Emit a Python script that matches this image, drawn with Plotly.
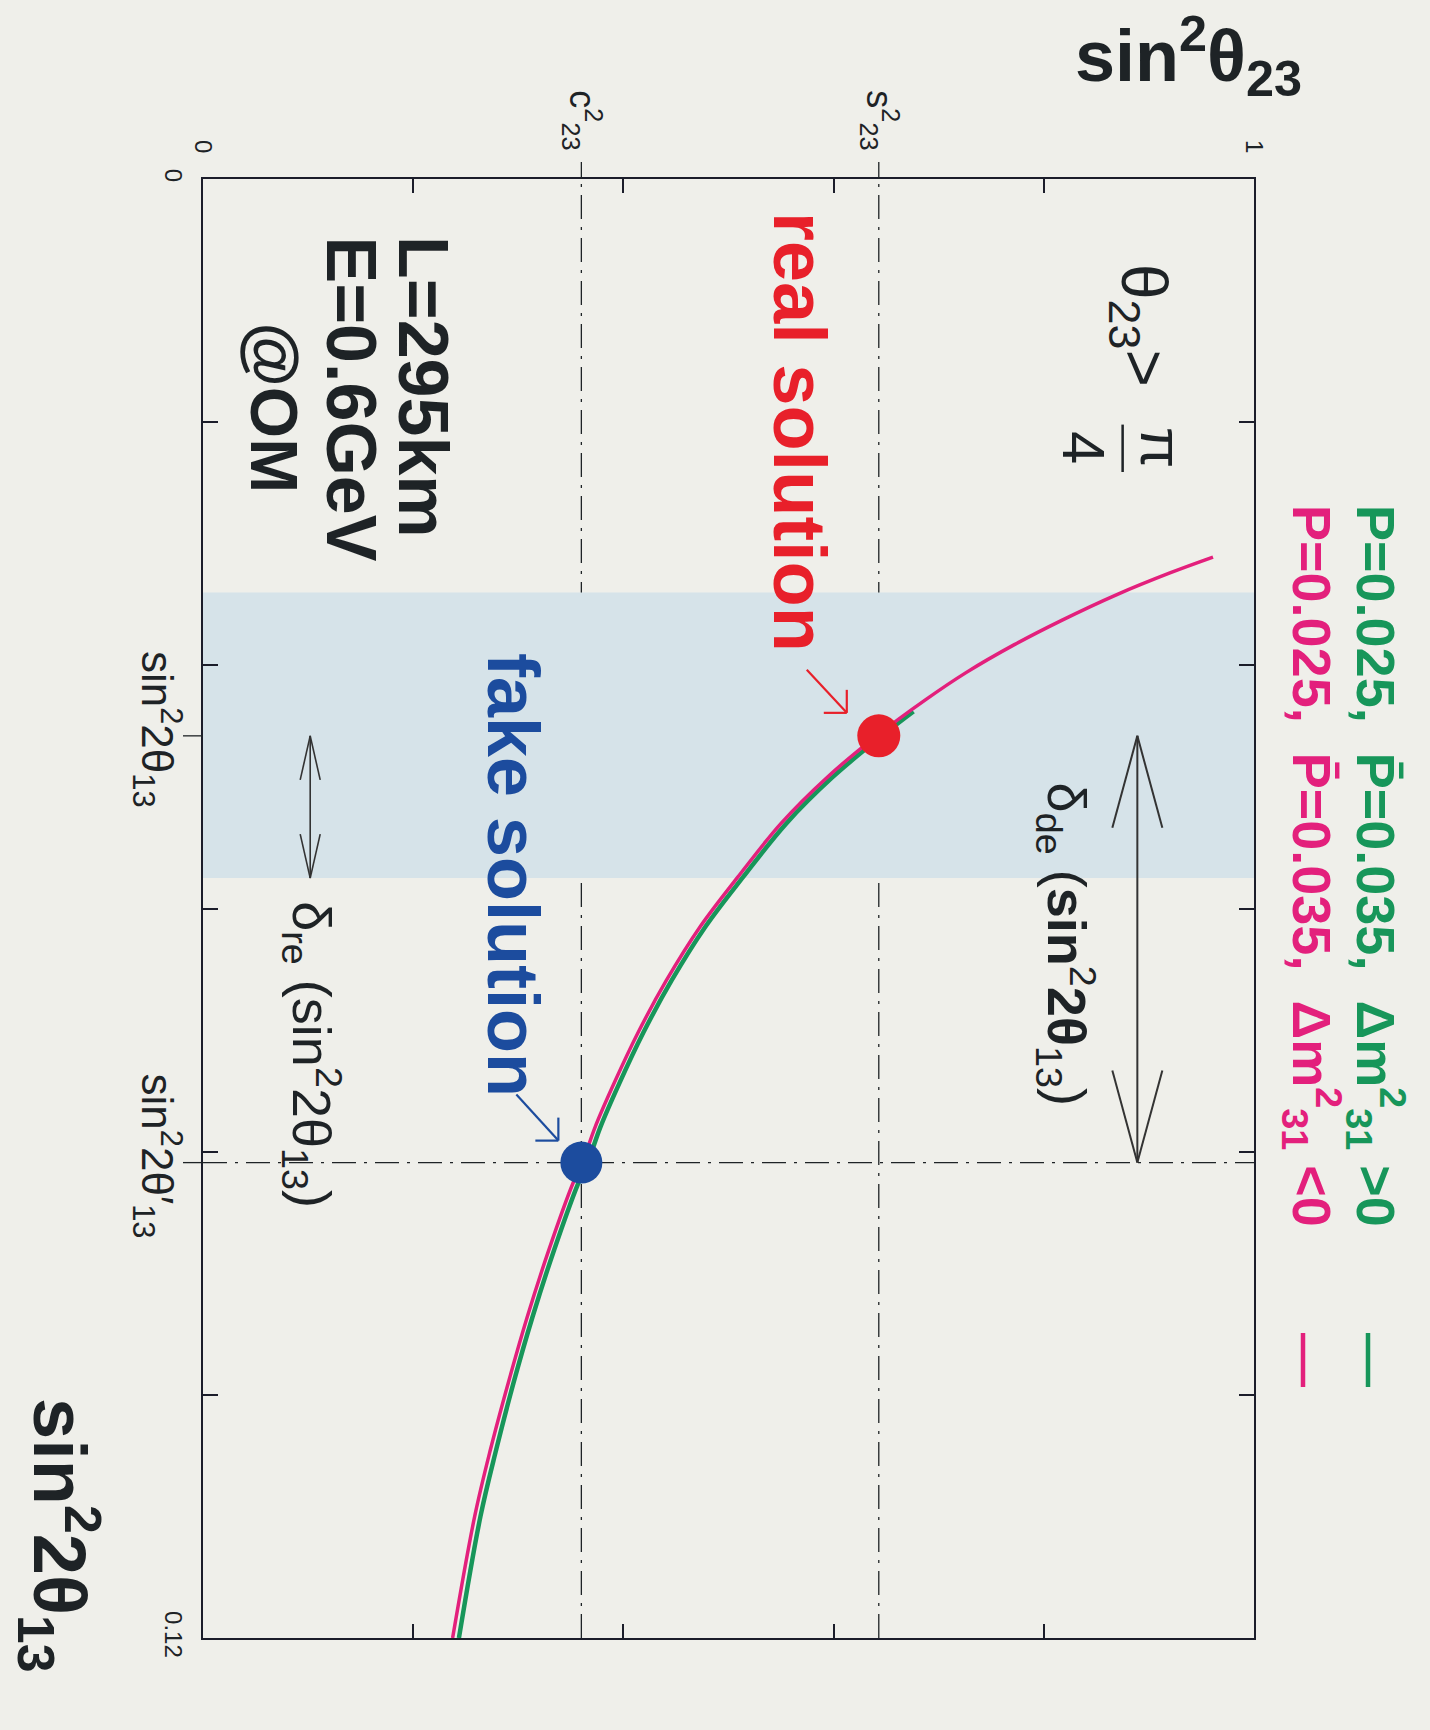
import plotly.graph_objects as go

# ---------------- data ----------------
# x: sin^2(theta23), y: sin^2(2 theta13)
pink_sin2_23 = [0.961, 0.920, 0.869, 0.817, 0.772, 0.726, 0.688, 0.641, 0.594, 0.550, 0.509, 0.473,
                0.441, 0.414, 0.391, 0.373, 0.361, 0.352, 0.329, 0.3085, 0.2905, 0.2735, 0.2585, 0.2375]
pink_sin2_2_13 = [0.0311, 0.0324, 0.0342, 0.0363, 0.0383, 0.0406, 0.0428, 0.0458, 0.0492, 0.0530, 0.0574, 0.0615,
                  0.0659, 0.0702, 0.0744, 0.0780, 0.0809, 0.0826, 0.0881, 0.0936, 0.0990, 0.1045, 0.1100, 0.1200]
green_sin2_23 = [0.676, 0.646, 0.599, 0.555, 0.514, 0.478, 0.446, 0.419, 0.396, 0.378, 0.366, 0.357,
                 0.334, 0.3135, 0.2955, 0.279, 0.264, 0.2435]
green_sin2_2_13 = [0.0438, 0.0458, 0.0492, 0.0530, 0.0574, 0.0615, 0.0659, 0.0702, 0.0744, 0.0780, 0.0809, 0.0826,
                   0.0881, 0.0936, 0.0990, 0.1045, 0.1100, 0.1200]

s2_23 = 0.643          # s^2_23
c2_23 = 0.360          # c^2_23
sin2_real = 0.0458     # sin^2 2theta13 (real)
sin2_fake = 0.0809     # sin^2 2theta13' (fake)
band = [0.0340, 0.0575]

x_range = [0, 1]
y_range = [0, 0.12]
x_minor_ticks = [0.2, 0.4, 0.6, 0.8]
y_minor_ticks = [0.02, 0.04, 0.06, 0.08, 0.10]
x_end_labels = ["0", "1"]
y_end_labels = ["0", "0.12"]

# ---------------- style ----------------
BG = "#efefea"
BAND = "#d6e3e9"
GREEN = "#17965a"
PINK = "#e3207c"
RED = "#e8202a"
BLUE = "#1c4c9e"
INK = "#1e2326"
AX = "#1b1d2a"
FONT = "Liberation Sans, Arial, sans-serif"

W, H = 1430, 1730
ML, MR, MT, MB = 203, 176, 179, 92
PW, PH = W - ML - MR, H - MT - MB


def ds(px):
    return px * (x_range[1] - x_range[0]) / PW


def dv(px):
    return px * (y_range[1] - y_range[0]) / PH


fig = go.Figure()

fig.add_trace(go.Scatter(x=green_sin2_23, y=green_sin2_2_13, mode="lines",
                         line=dict(color=GREEN, width=4.5, shape="spline", smoothing=1), hoverinfo="skip"))
fig.add_trace(go.Scatter(x=pink_sin2_23, y=pink_sin2_2_13, mode="lines",
                         line=dict(color=PINK, width=3.5, shape="spline", smoothing=1), hoverinfo="skip"))
fig.add_trace(go.Scatter(x=[s2_23], y=[sin2_real], mode="markers",
                         marker=dict(color=RED, size=43), hoverinfo="skip"))
fig.add_trace(go.Scatter(x=[c2_23], y=[sin2_fake], mode="markers",
                         marker=dict(color=BLUE, size=42), hoverinfo="skip"))
# invisible carrier trace for the secondary (end-label) axes
fig.add_trace(go.Scatter(x=x_range, y=y_range, xaxis="x2", yaxis="y2", mode="lines",
                         line=dict(width=0, color="rgba(0,0,0,0)"), hoverinfo="skip"))

shapes = []
shapes.append(dict(type="rect", xref="x", yref="y", x0=x_range[0], x1=x_range[1], y0=band[0], y1=band[1],
                   fillcolor=BAND, line=dict(width=0), layer="below"))
dashdot = dict(color=INK, width=1.3, dash="24px,8px,3px,8px")
for xv in [c2_23, s2_23]:
    shapes.append(dict(type="line", xref="x", yref="paper", x0=xv, x1=xv, y0=0, y1=1, line=dashdot, layer="below"))
    shapes.append(dict(type="line", xref="x", yref="paper", x0=xv, x1=xv, y0=1, y1=1 + 17 / PH,
                       line=dict(color=INK, width=1.3)))
for yv in [sin2_real, sin2_fake]:
    shapes.append(dict(type="line", xref="paper", yref="y", x0=0, x1=1, y0=yv, y1=yv, line=dashdot, layer="below"))
    shapes.append(dict(type="line", xref="paper", yref="y", x0=-20 / PW, x1=0, y0=yv, y1=yv,
                       line=dict(color=INK, width=1.3)))


def seg(x0, y0, x1, y1, color, width):
    shapes.append(dict(type="line", xref="x", yref="y", x0=x0, y0=y0, x1=x1, y1=y1,
                       line=dict(color=color, width=width), layer="above"))


# delta_de double arrow
s_de = 0.889
seg(s_de, sin2_real, s_de, sin2_fake, "#333", 2)
for sgn in (-1, 1):
    seg(s_de, sin2_real, s_de + ds(25 * sgn), sin2_real + dv(92), "#333", 2)
    seg(s_de, sin2_fake, s_de + ds(25 * sgn), sin2_fake - dv(92), "#333", 2)
# delta_re double arrow
s_re = 0.102
seg(s_re, sin2_real, s_re, band[1], "#333", 1.6)
for sgn in (-1, 1):
    seg(s_re, sin2_real, s_re + ds(10 * sgn), sin2_real + dv(44), "#333", 1.6)
    seg(s_re, band[1], s_re + ds(10 * sgn), band[1] - dv(44), "#333", 1.6)

# pointer arrows to the solutions
for (sx, vy, col, tip, tail) in [(s2_23, sin2_real, RED, (-32, -23), (-40, -43)),
                                  (c2_23, sin2_fake, BLUE, (-23, -22), (-42, -46))]:
    tx, ty = sx + ds(tip[0]), vy + dv(tip[1])
    seg(tx, ty, tx + ds(tail[0]), ty + dv(tail[1]), col, 2.2)
    seg(tx, ty, tx, ty + dv(-23), col, 2.2)
    seg(tx, ty, tx + ds(-23), ty, col, 2.2)

# fraction bar for pi/4
seg(0.875, 0.0202, 0.875, 0.0241, INK, 2.5)

# legend line samples
for xp, col in [((1303 - ML) / PW, PINK), ((1368 - ML) / PW, GREEN)]:
    shapes.append(dict(type="line", xref="paper", yref="paper", x0=xp, x1=xp,
                       y0=1 - (1333 - MT) / PH, y1=1 - (1387 - MT) / PH, line=dict(color=col, width=4.5)))

ann = []


def rot(text, x, y, size, color=INK, bold=False, xanchor="center", yanchor="top", xref="x", yref="y", angle=90):
    if bold:
        text = "<b>" + text + "</b>"
    ann.append(dict(text=text, x=x, y=y, xref=xref, yref=yref, showarrow=False, textangle=angle,
                    xanchor=xanchor, yanchor=yanchor, font=dict(family=FONT, size=size, color=color)))


rot("real solution", 0.568, dv(210 - MT), 74, RED, bold=True)
rot("fake solution", 0.295, dv(651 - MT), 72, BLUE, bold=True)
rot("L=295km", (423 - ML) / PW, dv(234 - MT), 70, bold=True)
rot("E=0.6GeV", (351 - ML) / PW, dv(234 - MT), 70, bold=True)
rot("@OM", (274 - ML) / PW, dv(320 - MT), 66, bold=True)
rot("θ<sub>23</sub>>", 0.892, dv(262 - MT), 64)
rot("π<br>4", 0.875, 0.0221, 60, yanchor="middle")
rot("δ<sub>de</sub> (<b>sin</b><sup>2</sup><b>2θ</b><sub>13</sub>)", 0.822, dv(781 - MT), 54)
rot("δ<sub>re</sub> (sin<sup>2</sup>2θ<sub>13</sub>)", 0.104, dv(899 - MT), 54)

# legend texts
rot("P=0.025,  P\u0304=0.035,  Δm<sup>2</sup><sub>31</sub> >0", (1376 - ML) / PW, 1 - (503 - MT) / PH, 54,
    GREEN, bold=True, xref="paper", yref="paper")
rot("P=0.025,  P\u0304=0.035,  Δm<sup>2</sup><sub>31</sub> <0", (1312 - ML) / PW, 1 - (503 - MT) / PH, 54,
    PINK, bold=True, xref="paper", yref="paper")

# axis titles
rot("sin<sup>2</sup>θ<sub>23</sub>", (1188 - ML) / PW, 1 + (MT - 56) / PH, 72, bold=True,
    xref="paper", yref="paper", yanchor="middle", angle=0)
rot("sin<sup>2</sup>2θ<sub>13</sub>", (60 - ML) / PW, 1 - (1535 - MT) / PH, 74, bold=True,
    xref="paper", yref="paper", yanchor="middle")

fig.update_layout(
    width=W, height=H, margin=dict(l=ML, r=MR, t=MT, b=MB, autoexpand=False),
    paper_bgcolor=BG, plot_bgcolor=BG, showlegend=False,
    shapes=shapes, annotations=ann, font=dict(family=FONT, color=INK),
    xaxis=dict(
        range=x_range, side="top", showgrid=False, zeroline=False,
        showline=True, linecolor=AX, linewidth=2, mirror="ticks",
        tickvals=[c2_23, s2_23],
        ticktext=["c<sup>2</sup><sub>23</sub>", "s<sup>2</sup><sub>23</sub>"],
        ticks="", tickangle=90, tickfont=dict(size=36, color=INK), ticklabelstandoff=14,
        minor=dict(tickvals=x_minor_ticks, ticks="inside", ticklen=14, tickcolor=AX, tickwidth=1.5),
    ),
    xaxis2=dict(
        range=x_range, side="top", overlaying="x", anchor="y", showgrid=False, zeroline=False,
        showline=False, tickvals=x_range, ticktext=x_end_labels, ticks="", tickangle=90,
        tickfont=dict(size=24, color=INK), ticklabelstandoff=21,
    ),
    yaxis=dict(
        range=[y_range[1], y_range[0]], showgrid=False, zeroline=False,
        showline=True, linecolor=AX, linewidth=2, mirror="ticks",
        tickvals=[sin2_real, sin2_fake],
        ticktext=["sin<sup>2</sup>2θ<sub>13</sub>", "sin<sup>2</sup>2θ′<sub>13</sub>"],
        ticks="", tickangle=90, tickfont=dict(size=44, color=INK), ticklabelstandoff=6,
        minor=dict(tickvals=y_minor_ticks, ticks="inside", ticklen=15, tickcolor=AX, tickwidth=1.5),
    ),
    yaxis2=dict(
        range=[y_range[1], y_range[0]], overlaying="y", anchor="x", side="left", showgrid=False,
        zeroline=False, showline=False, tickvals=y_range, ticktext=y_end_labels, ticks="",
        tickangle=90, tickfont=dict(size=24, color=INK), ticklabelstandoff=13,
    ),
)

fig.write_html("out.html")
